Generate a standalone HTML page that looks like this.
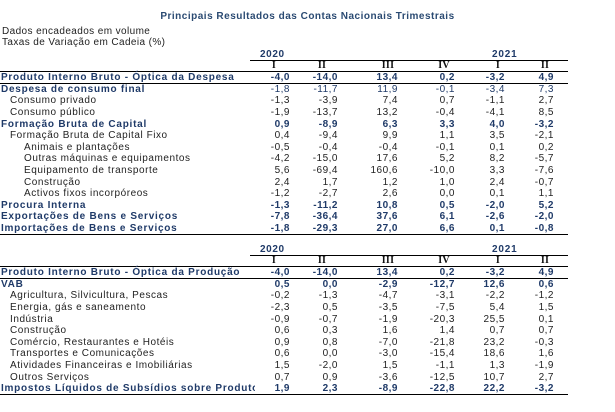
<!DOCTYPE html>
<html><head><meta charset="utf-8">
<style>
body{margin:0;width:615px;height:412px;background:#fff;overflow:hidden;font-family:"Liberation Sans",sans-serif;}
#root{position:relative;width:615px;height:412px;}
.t{position:absolute;white-space:nowrap;font-size:10px;line-height:12px;letter-spacing:0.25px;color:#222;}
.b{font-weight:bold;color:#1f3a68;}
.lab{letter-spacing:0.55px;}
.lab.b{letter-spacing:0.75px;}
.v{text-align:right;width:50px;letter-spacing:0.5px;}
.h{position:absolute;height:1px;background:#000;}
</style></head><body>
<div id="root">
<div class="t b" style="left:0;width:615px;text-align:center;top:11px;font-weight:bold;color:#2a4a72;letter-spacing:0.5px">Principais Resultados das Contas Nacionais Trimestrais</div>
<div class="t" style="left:2px;top:26px;letter-spacing:0.4px">Dados encadeados em volume</div>
<div class="t" style="left:2px;top:37px;letter-spacing:0.4px">Taxas de Variação em Cadeia (%)</div>
</div>
<script>
const years=["2020","2021"];
const quarters=["I","II","III","IV","I","II"];
const labels1=["Produto Interno Bruto - Óptica da Despesa","Despesa de consumo final","Consumo privado","Consumo público","Formação Bruta de Capital","Formação Bruta de Capital Fixo","Animais e plantações","Outras máquinas e equipamentos","Equipamento de transporte","Construção","Activos fixos incorpóreos","Procura Interna","Exportações de Bens e Serviços","Importações de Bens e Serviços"];
const levels1=[0,0,1,1,0,1,2,2,2,2,2,0,0,0];
const values1=[["-4,0","-14,0","13,4","0,2","-3,2","4,9"],["-1,8","-11,7","11,9","-0,1","-3,4","7,3"],["-1,3","-3,9","7,4","0,7","-1,1","2,7"],["-1,9","-13,7","13,2","-0,4","-4,1","8,5"],["0,9","-8,9","6,3","3,3","4,0","-3,2"],["0,4","-9,4","9,9","1,1","3,5","-2,1"],["-0,5","-0,4","-0,4","-0,1","0,1","0,2"],["-4,2","-15,0","17,6","5,2","8,2","-5,7"],["5,6","-69,4","160,6","-10,0","3,3","-7,6"],["2,4","1,7","1,2","1,0","2,4","-0,7"],["-1,2","-2,7","2,6","0,0","0,1","1,1"],["-1,3","-11,2","10,8","0,5","-2,0","5,2"],["-7,8","-36,4","37,6","6,1","-2,6","-2,0"],["-1,8","-29,3","27,0","6,6","0,1","-0,8"]];
const labels2=["Produto Interno Bruto - Óptica da Produção","VAB","Agricultura, Silvicultura, Pescas","Energia, gás e saneamento","Indústria","Construção","Comércio, Restaurantes e Hotéis","Transportes e Comunicações","Atividades Financeiras e Imobiliárias","Outros Serviços","Impostos Líquidos de Subsídios sobre Produto"];
const levels2=[0,0,1,1,1,1,1,1,1,1,0];
const values2=[["-4,0","-14,0","13,4","0,2","-3,2","4,9"],["0,5","0,0","-2,9","-12,7","12,6","0,6"],["-0,2","-1,3","-4,7","-3,1","-2,2","-1,2"],["-2,3","0,5","-3,5","-7,5","5,4","1,5"],["-0,9","-0,7","-1,9","-20,3","25,5","0,1"],["0,6","0,3","1,6","1,4","0,7","0,7"],["0,9","0,8","-7,0","-21,8","23,2","-0,3"],["0,6","0,0","-3,0","-15,4","18,6","1,6"],["1,5","-2,0","1,5","-1,1","1,3","-1,9"],["0,7","0,9","-3,6","-12,5","10,7","2,7"],["1,9","2,3","-8,9","-22,8","22,2","-3,2"]];
const root=document.getElementById('root');
const colRight=[290,338,398,455,505,554];
const qCenter=[274,322,388,444,498,545];
const rowH=11.6;
function add(cls,text,left,top,extra){const d=document.createElement('div');d.className='t '+cls;d.textContent=text;d.style.left=left+'px';d.style.top=top+'px';if(extra)Object.assign(d.style,extra);root.appendChild(d);return d;}
function line(x,y,w,name){const d=document.createElement('div');d.className='h';d.style.left=x+'px';d.style.top=y+'px';d.style.width=w+'px';


root.appendChild(d);}
function block(y0,labels,levels,values,prefix){
  let e=add('b',years[0],260,y0,{letterSpacing:'0.6px'});
  
  
  e=add('b',years[1],492,y0,{letterSpacing:'0.8px'});
  
  
  line(250,y0+11,318,prefix+'-year-rule');
  quarters.forEach((q,i)=>{const d=add('b',q,qCenter[i]-20,y0+rowH-0.5,{width:'40px',textAlign:'center',color:'#111',fontFamily:'"Liberation Serif",serif'});
    
    });
  line(0,y0+2*rowH-1,568,prefix+'-header-rule');
  labels.forEach((lab,r)=>{
    const y=y0+(r+2)*rowH;const bold=levels[r]===0;const cls=bold?'b':'';
    const ind=[1,10,24][levels[r]];
    const d=add(cls+' lab',lab,ind,y,bold?{}:{color:'#222'});
    if(r===labels.length-1&&prefix==='production'){d.style.width='254px';d.style.overflow='hidden';}
    
    
    const plainVals=(prefix==='expenditure'&&r===1);
    values[r].forEach((v,c)=>{const e=add((plainVals?'':cls)+' v',v,colRight[c]-50,y,plainVals?{color:'#1f3a68'}:{});
      
      });
    if(r===0)line(0,y+rowH-0.5,568,prefix+'-total-rule');
  });
  line(0,y0+(labels.length+2)*rowH-0.5,568,prefix+'-bottom-rule');
}
block(49,labels1,levels1,values1,'expenditure');
block(244,labels2,levels2,values2,'production');
</script>
</body></html>
